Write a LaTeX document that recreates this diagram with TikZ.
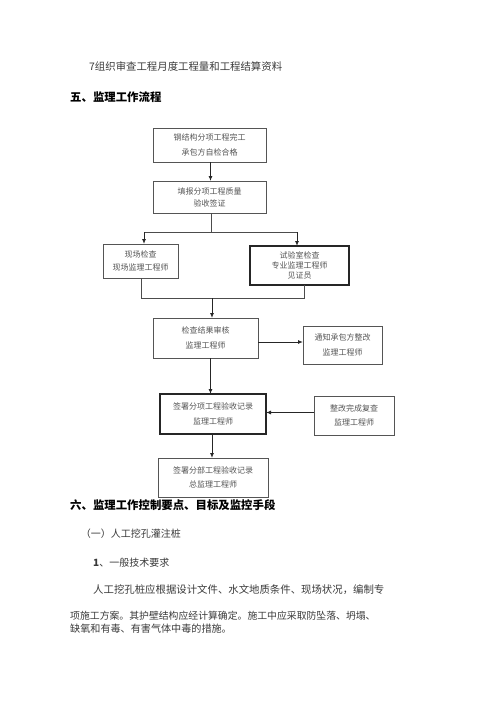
\documentclass[tikz,border=0pt]{standalone}
\usepackage{fontspec}
\setmainfont{Noto Sans CJK SC}
\newfontfamily\cjk{Noto Sans CJK SC}
\usetikzlibrary{arrows.meta}
\definecolor{boxline}{HTML}{555555}
\definecolor{boxtxt}{HTML}{555555}
\definecolor{bodytxt}{HTML}{3A3A3A}
\tikzset{
  fbox/.style={draw=boxline, line width=0.8pt, rectangle, inner sep=0pt, outer sep=0pt, align=center, text=boxtxt},
  fboxthick/.style={fbox, draw=black!85, line width=1.2pt},
  arr/.style={-{Latex[length=5pt,width=4pt]}, line width=0.9pt, black!85},
  ln/.style={line width=0.9pt, black!70},
  bodyline/.style={anchor=west, inner sep=0pt, text=bodytxt},
  headline/.style={anchor=west, inner sep=0pt, text=black, font=\cjk\bfseries\fontsize{11.4}{13}\selectfont},
}
\begin{document}
\begin{tikzpicture}[x=1pt,y=1pt]
\useasboundingbox (0,0) rectangle (500,-707);
\fill[white] (0,0) rectangle (500,-707);

% top text
\node[bodyline, font=\cjk\fontsize{10.4}{12}\selectfont] (t1) at (89,-66.7) {7组织审查工程月度工程量和工程结算资料};
\node[headline] (h5) at (70,-96.7) {五、监理工作流程};

% boxes
\node[fbox, minimum width=113, minimum height=34, font=\cjk\fontsize{8}{14.7}\selectfont] (b1) at (209.5,-145) {钢结构分项工程完工\\承包方自检合格};
\node[fbox, minimum width=113, minimum height=32, font=\cjk\fontsize{8}{12}\selectfont] (b2) at (209.5,-197) {填报分项工程质量\\验收签证};
\node[fbox, minimum width=75, minimum height=34, font=\cjk\fontsize{8}{13}\selectfont] (b3l) at (140.5,-261) {现场检查\\现场监理工程师};
\node[fboxthick, minimum width=99, minimum height=39, font=\cjk\fontsize{8}{10.4}\selectfont] (b3r) at (299.5,-265.5) {试验室检查\\专业监理工程师\\见证员};
\node[fbox, minimum width=105, minimum height=40, font=\cjk\fontsize{8}{14.7}\selectfont] (b4) at (205.5,-338) {检查结果审核\\监理工程师};
\node[fbox, minimum width=79, minimum height=38, font=\cjk\fontsize{8}{15}\selectfont] (b5) at (342.5,-345) {通知承包方整改\\监理工程师};
\node[fboxthick, minimum width=106, minimum height=40, font=\cjk\fontsize{8}{14.6}\selectfont] (b6) at (213,-414) {签署分项工程验收记录\\监理工程师};
\node[fbox, minimum width=80, minimum height=39, font=\cjk\fontsize{8}{14.7}\selectfont] (b7) at (354,-415.5) {整改完成复查\\监理工程师};
\node[fbox, minimum width=110, minimum height=39, font=\cjk\fontsize{8}{13.4}\selectfont] (b8) at (213,-477.5) {签署分部工程验收记录\\总监理工程师};

% connectors
\draw[arr] ([xshift=1pt]b1.south) -- ([xshift=1pt]b1.south |- b2.north);
\coordinate (jm) at (211,-232);
\coordinate (jl) at (144,-232);
\coordinate (jr) at (297,-232);
\draw[ln] ([xshift=1.5pt]b2.south) -- (jm);
\draw[ln] (jl) -- (jr);
\draw[arr] (jl) -- (jl |- b3l.north);
\draw[arr] (jr) -- (jr |- b3r.north);

\coordinate (kl) at (141,-298);
\coordinate (kr) at (304,-298);
\coordinate (km) at (212,-298);
\draw[ln] (kl |- b3l.south) -- (kl) -- (kr) -- (kr |- b3r.south);
\draw[arr] (km) -- (km |- b4.north);

\draw[arr] ([yshift=-4pt]b4.east) -- ([yshift=-4pt]b4.east -| b5.west);
\draw[arr] ([xshift=5pt]b4.south) -- ([xshift=5pt]b4.south |- b6.north);
\draw[arr] ([yshift=3pt]b7.west) -- ([yshift=3pt]b7.west -| b6.east);
\draw[arr] ([xshift=-1pt]b6.south) -- ([xshift=-1pt]b6.south |- b8.north);

% lower text
\node[headline] (h6) at (70,-505) {六、监理工作控制要点、目标及监控手段};
\node[bodyline, font=\cjk\fontsize{10}{12}\selectfont] (t2) at (80.7,-533.3) {（一）人工挖孔灌注桩};
\node[bodyline, font=\cjk\fontsize{10}{12}\selectfont] (t3) at (93,-562.7) {\textbf{1}、一般技术要求};
\node[bodyline, font=\cjk\fontsize{10.4}{12}\selectfont] (p1) at (93,-589.3) {人工挖孔桩应根据设计文件、水文地质条件、现场状况，编制专};
\node[bodyline, font=\cjk\fontsize{9.85}{12}\selectfont] (p2) at (70,-616) {项施工方案。其护壁结构应经计算确定。施工中应采取防坠落、坍塌、};
\node[bodyline, font=\cjk\fontsize{10.1}{12}\selectfont] (p3) at (70,-628.3) {缺氧和有毒、有害气体中毒的措施。};
\end{tikzpicture}
\end{document}
